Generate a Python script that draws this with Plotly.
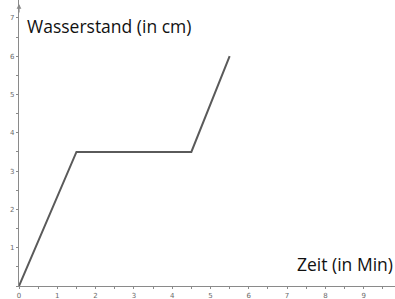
import plotly.graph_objects as go

# Data
zeit = [0, 1.5, 4.5, 5.5]
wasserstand = [0, 3.5, 3.5, 6]
x_ticks = [0, 1, 2, 3, 4, 5, 6, 7, 8, 9]
y_ticks = [1, 2, 3, 4, 5, 6, 7]

PX = 38.3  # pixels per unit
fig = go.Figure()
fig.add_trace(go.Scatter(x=zeit, y=wasserstand, mode="lines",
                         line=dict(color="#5a5a5a", width=2), hoverinfo="skip"))

axis_color = "#8a8a8a"
tickfont = dict(family="DejaVu Sans", size=7, color="#6a6a6a")

fig.update_layout(
    width=395, height=299,
    margin=dict(l=19, r=0, t=0, b=13, autoexpand=False),
    paper_bgcolor="white", plot_bgcolor="white",
    showlegend=False,
    xaxis=dict(range=[0, 376 / PX], showgrid=False, zeroline=False, automargin=False,
               showline=True, linecolor=axis_color, linewidth=1.2,
               tickmode="array", tickvals=x_ticks, ticktext=[str(v) for v in x_ticks],
               ticks="outside", ticklen=2, tickcolor=axis_color, tickfont=tickfont,
               minor=dict(dtick=0.5, ticks="outside", ticklen=2, tickcolor=axis_color),
               fixedrange=True),
    yaxis=dict(range=[0, 286 / PX], showgrid=False, zeroline=False, automargin=False,
               showline=True, linecolor=axis_color, linewidth=1.2,
               tickmode="array", tickvals=y_ticks, ticktext=[str(v) for v in y_ticks],
               ticks="outside", ticklen=2, tickcolor=axis_color, tickfont=tickfont,
               minor=dict(dtick=0.5, ticks="outside", ticklen=2, tickcolor=axis_color),
               fixedrange=True),
)

fig.add_annotation(x=(25 - 19) / PX, y=(286 - 26) / PX, xref="x", yref="y",
                   text="Wasserstand (in cm)", showarrow=False, xanchor="left", yanchor="middle",
                   font=dict(family="Open Sans", size=17.5, color="#111111"))
fig.add_annotation(x=1, y=(286 - 264) / PX, xref="paper", yref="y",
                   text="Zeit (in Min)", showarrow=False, xanchor="right", yanchor="middle",
                   font=dict(family="Open Sans", size=17.5, color="#111111"))
# arrow head at top of y axis
fig.add_annotation(x=0, y=(286 - 4) / PX, ax=0, ay=(286 - 14) / PX, xref="x", yref="y",
                   axref="x", ayref="y", text="", showarrow=True, arrowhead=2,
                   arrowsize=0.8, arrowwidth=1.2, arrowcolor=axis_color)

fig.write_html("out.html", config={"displayModeBar": False},
               post_script="document.body.style.margin='0';document.body.style.overflow='hidden';")
